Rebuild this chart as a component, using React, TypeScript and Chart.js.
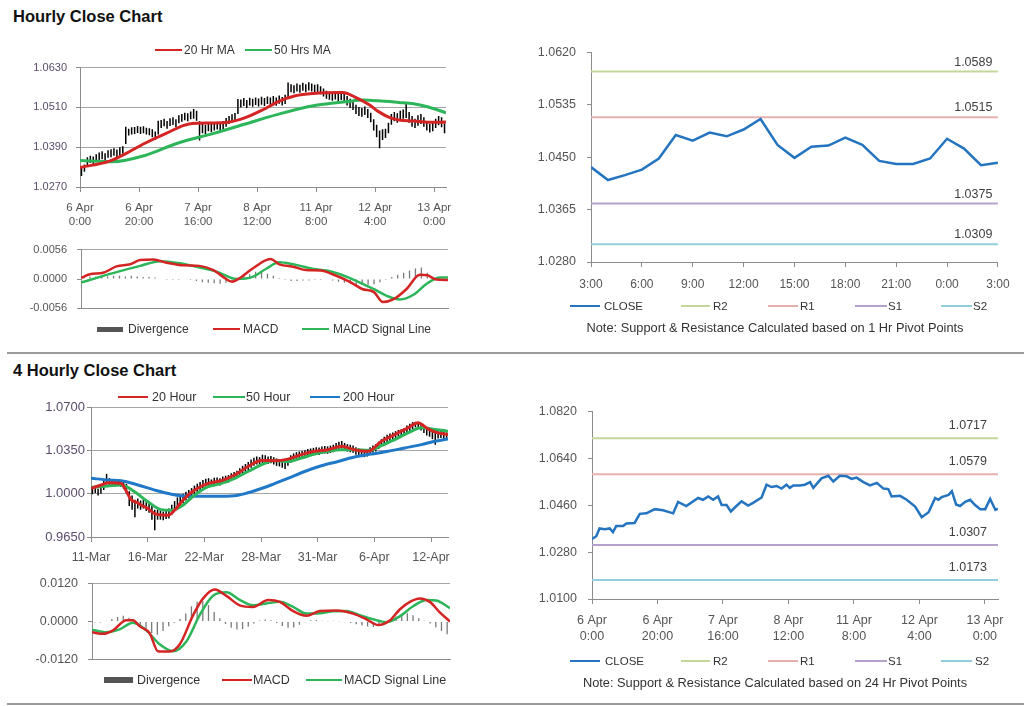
import React, { useEffect, useRef } from 'react';
import { Chart, registerables } from 'chart.js';
Chart.register(...registerables);

const FONT = '"Liberation Sans", Arial, sans-serif';
const AXIS = '#8c8c8c';
const GRID = '#a6a6a6';
const RED = '#d42424';
const GREEN = '#2db55a';
const BLUE = '#1f78c8';
const CLOSE_BLUE = '#2474c0';
const SR_COLORS = ['#c4d79b', '#e6b0ae', '#b4a2cc', '#92cddc'];

// ---------- Hourly close chart (top left) ----------
const H_TICK_POS = [0, 20, 40, 60, 80, 100, 120];
const H_TICK_LABELS = [['6 Apr', '0:00'], ['6 Apr', '20:00'], ['7 Apr', '16:00'], ['8 Apr', '12:00'], ['11 Apr', '8:00'], ['12 Apr', '4:00'], ['13 Apr', '0:00']];
const H_PRICE_TICKS = [1.027, 1.039, 1.051, 1.063];
const H_LOW = [
  1.0303, 1.0316, 1.0330, 1.0342, 1.0338, 1.0346, 1.0350, 1.0354, 1.0349, 1.0358,
  1.0360, 1.0364, 1.0360, 1.0366, 1.0370, 1.0400, 1.0425, 1.0428, 1.0430, 1.0433,
  1.0430, 1.0432, 1.0428, 1.0426, 1.0420, 1.0412, 1.0428, 1.0448, 1.0453, 1.0446,
  1.0454, 1.0457, 1.0451, 1.0462, 1.0467, 1.0471, 1.0468, 1.0474, 1.0476, 1.0470,
  1.0410, 1.0432, 1.0430, 1.0438, 1.0435, 1.0440, 1.0443, 1.0438, 1.0445, 1.0452,
  1.0460, 1.0464, 1.0467, 1.0490, 1.0510, 1.0514, 1.0508, 1.0516, 1.0512, 1.0517,
  1.0513, 1.0518, 1.0514, 1.0520, 1.0516, 1.0520, 1.0515, 1.0521, 1.0516, 1.0520,
  1.0540, 1.0556, 1.0553, 1.0558, 1.0554, 1.0560, 1.0556, 1.0561, 1.0558, 1.0554,
  1.0556, 1.0550, 1.0543, 1.0536, 1.0533, 1.0530, 1.0534, 1.0528, 1.0532, 1.0524,
  1.0516, 1.0508, 1.0502, 1.0490, 1.0484, 1.0482, 1.0487, 1.0478, 1.0465, 1.0440,
  1.0420, 1.0387, 1.0412, 1.0418, 1.0432, 1.0458, 1.0468, 1.0464, 1.0472, 1.0476,
  1.0478, 1.0464, 1.0452, 1.0448, 1.0455, 1.0460, 1.0452, 1.0440, 1.0434, 1.0438,
  1.0448, 1.0456, 1.0450, 1.0432,
];
const H_HIGH = [
  1.0328, 1.0338, 1.0360, 1.0364, 1.0362, 1.0369, 1.0374, 1.0378, 1.0372, 1.0381,
  1.0384, 1.0387, 1.0383, 1.0390, 1.0393, 1.0452, 1.0446, 1.0450, 1.0451, 1.0454,
  1.0452, 1.0453, 1.0449, 1.0447, 1.0444, 1.0437, 1.0470, 1.0472, 1.0476, 1.0469,
  1.0477, 1.0480, 1.0474, 1.0486, 1.0490, 1.0494, 1.0492, 1.0498, 1.0505, 1.0500,
  1.0468, 1.0462, 1.0458, 1.0462, 1.0460, 1.0464, 1.0467, 1.0462, 1.0469, 1.0478,
  1.0484, 1.0489, 1.0493, 1.0535, 1.0534, 1.0538, 1.0532, 1.0539, 1.0536, 1.0540,
  1.0537, 1.0542, 1.0538, 1.0543, 1.0540, 1.0544, 1.0540, 1.0546, 1.0541, 1.0548,
  1.0585, 1.0580, 1.0577, 1.0582, 1.0578, 1.0584, 1.0580, 1.0586, 1.0582, 1.0578,
  1.0580, 1.0574, 1.0567, 1.0560, 1.0557, 1.0554, 1.0558, 1.0552, 1.0556, 1.0552,
  1.0544, 1.0536, 1.0530, 1.0518, 1.0511, 1.0508, 1.0513, 1.0505, 1.0494, 1.0474,
  1.0458, 1.0440, 1.0444, 1.0446, 1.0464, 1.0490, 1.0496, 1.0492, 1.0500, 1.0504,
  1.0522, 1.0496, 1.0484, 1.0476, 1.0486, 1.0490, 1.0480, 1.0466, 1.0460, 1.0463,
  1.0476, 1.0484, 1.0480, 1.0462,
];
const H_MA20_X = [0, 10, 16, 22, 29, 37, 45, 50, 56, 62, 67, 73, 79, 89, 93, 98, 101, 105, 108, 113, 118, 124];
const H_MA20 = [1.0329, 1.0348, 1.0373, 1.0402, 1.0431, 1.0460, 1.0463, 1.0465, 1.0479, 1.0503, 1.0527, 1.0545, 1.0552, 1.0555, 1.0542, 1.0518, 1.0498, 1.0479, 1.0472, 1.0469, 1.0465, 1.0466];
const H_MA50_X = [0, 11, 22, 33, 45, 56, 67, 79, 86, 90, 96, 101, 108, 113, 118, 124];
const H_MA50 = [1.0350, 1.0346, 1.0365, 1.0402, 1.0431, 1.0460, 1.0489, 1.0515, 1.0523, 1.0527, 1.0532, 1.0530, 1.0525, 1.0521, 1.0511, 1.0494];

// Hourly MACD
const H_MACD_TICKS = [-0.0056, 0, 0.0056];
const H_MACD_X = [0, 3, 7.5, 12, 16.6, 20, 24.4, 29, 34.6, 40, 44.7, 48, 51, 53.7, 58, 64, 67, 72, 76, 81, 85, 91, 95, 99, 102, 105.5, 110, 114.5, 117, 120, 124];
const H_MACD = [0.0002, 0.0009, 0.0012, 0.0024, 0.0028, 0.0036, 0.0037, 0.0031, 0.0026, 0.0025, 0.0017, 0.0004, -0.0005, 0.0002, 0.0020, 0.0038, 0.0028, 0.0023, 0.0017, 0.0016, 0.0009, -0.0006, -0.0019, -0.0025, -0.0044, -0.0039, -0.0019, 0.0008, 0.0007, -0.0001, -0.0002];
const H_SIG_X = [0, 6.4, 13.2, 20, 26.7, 33.4, 40, 45.8, 52.6, 58, 62.7, 67, 71.7, 78.5, 83, 87.5, 92, 98.8, 103.3, 107.8, 112.3, 116.8, 121.3, 124];
const H_SIG = [-0.0007, 0.0004, 0.0015, 0.0025, 0.0034, 0.0030, 0.0022, 0.0014, 0.0000, 0.0004, 0.0020, 0.0032, 0.0028, 0.0019, 0.0016, 0.0009, -0.0001, -0.0019, -0.0032, -0.0039, -0.0030, -0.0009, 0.0003, 0.0003];
const H_DIV = [
  0.0004, 0.0005, 0.0005, 0.0006, 0.0005, 0.0006, 0.0006, 0.0005, 0.0006, 0.0005, 0.0004, 0.0004, 0.0003,
  -0.0001, -0.0002, -0.0002, -0.0002, -0.0001, -0.0002,
  -0.0004, -0.0006, -0.0007, -0.0008, -0.0009, -0.0007,
  -0.0004, 0.0002,
  0.0006, 0.0009, 0.0014, 0.0012, 0.0010, 0.0006,
  0.0002, -0.0002,
  -0.0004, -0.0004, -0.0003, -0.0003, -0.0002, -0.0002,
  -0.0001, -0.0003,
  -0.0005, -0.0007, -0.0009, -0.0010, -0.0011, -0.0011, -0.0010,
  -0.0006, -0.0002,
  0.0004, 0.0008, 0.0012, 0.0016, 0.0020, 0.0022,
  0.0012, 0.0004, 0.0001, -0.0002,
];

// Hourly close with 1 Hr pivots (top right)
const C1_TICK_POS = [0, 3, 6, 9, 12, 15, 18, 21, 24];
const C1_TICK_LABELS = ['3:00', '6:00', '9:00', '12:00', '15:00', '18:00', '21:00', '0:00', '3:00'];
const C1_Y_TICKS = [1.028, 1.0365, 1.045, 1.0535, 1.062];
const C1_CLOSE = [1.0434, 1.0413, 1.0421, 1.0430, 1.0448, 1.0486, 1.0477, 1.0490, 1.0484, 1.0495, 1.0512, 1.0470, 1.0449, 1.0467, 1.0469, 1.0482, 1.0470, 1.0444, 1.0439, 1.0439, 1.0448, 1.0480, 1.0464, 1.0437, 1.0441];
const C1_LEVELS = [1.0589, 1.0515, 1.0375, 1.0309]; // R2, R1, S1, S2

// ---------- 4 Hourly close chart (bottom left) ----------
const F_TICK_POS = [0, 20, 40, 60, 80, 100, 120];
const F_TICK_LABELS = ['11-Mar', '16-Mar', '22-Mar', '28-Mar', '31-Mar', '6-Apr', '12-Apr'];
const F_PRICE_TICKS = [0.965, 1.0, 1.035, 1.07];
const F_LOW = [
  0.9995, 1.0005, 0.9985, 1.0000, 1.0030, 1.0075, 1.0070, 1.0065, 1.0060, 1.0068,
  1.0055, 1.0040, 1.0000, 0.9900, 0.9870, 0.9810, 0.9880, 0.9870, 0.9880, 0.9860,
  0.9845, 0.9790, 0.9705, 0.9790, 0.9790, 0.9785, 0.9795, 0.9800, 0.9830, 0.9860,
  0.9895, 0.9915, 0.9925, 0.9945, 0.9960, 0.9975, 0.9995, 1.0010, 1.0025, 1.0045,
  1.0060, 1.0065, 1.0055, 1.0068, 1.0070, 1.0065, 1.0078, 1.0085, 1.0090, 1.0105,
  1.0115, 1.0125, 1.0140, 1.0160, 1.0175, 1.0190, 1.0210, 1.0225, 1.0235, 1.0230,
  1.0245, 1.0250, 1.0240, 1.0245, 1.0235, 1.0225, 1.0220, 1.0210, 1.0200, 1.0225,
  1.0250, 1.0265, 1.0275, 1.0280, 1.0285, 1.0290, 1.0300, 1.0305, 1.0310, 1.0315,
  1.0312, 1.0320, 1.0325, 1.0322, 1.0328, 1.0335, 1.0350, 1.0360, 1.0365, 1.0350,
  1.0340, 1.0335, 1.0330, 1.0315, 1.0305, 1.0300, 1.0295, 1.0300, 1.0315, 1.0330,
  1.0340, 1.0360, 1.0380, 1.0400, 1.0415, 1.0425, 1.0435, 1.0445, 1.0455, 1.0460,
  1.0470, 1.0490, 1.0505, 1.0520, 1.0535, 1.0530, 1.0510, 1.0490, 1.0470, 1.0460,
  1.0440, 1.0396, 1.0445, 1.0450, 1.0440, 1.0435,
];
const F_HIGH = [
  1.0045, 1.0050, 1.0040, 1.0050, 1.0120, 1.0160, 1.0125, 1.0115, 1.0110, 1.0118,
  1.0105, 1.0095, 1.0080, 1.0020, 0.9985, 0.9950, 0.9960, 0.9945, 0.9950, 0.9930,
  0.9920, 0.9900, 0.9870, 0.9870, 0.9860, 0.9855, 0.9865, 0.9880, 0.9910, 0.9940,
  0.9970, 0.9990, 1.0000, 1.0015, 1.0030, 1.0045, 1.0065, 1.0080, 1.0095, 1.0110,
  1.0120, 1.0125, 1.0115, 1.0128, 1.0130, 1.0125, 1.0138, 1.0145, 1.0150, 1.0165,
  1.0175, 1.0185, 1.0205, 1.0225, 1.0240, 1.0255, 1.0275, 1.0290, 1.0300, 1.0295,
  1.0315, 1.0310, 1.0300, 1.0305, 1.0295, 1.0285, 1.0280, 1.0275, 1.0270, 1.0285,
  1.0310, 1.0325, 1.0335, 1.0340, 1.0345, 1.0350, 1.0360, 1.0365, 1.0370, 1.0375,
  1.0372, 1.0380, 1.0385, 1.0382, 1.0388, 1.0395, 1.0410, 1.0420, 1.0425, 1.0410,
  1.0400, 1.0395, 1.0390, 1.0375, 1.0365, 1.0360, 1.0355, 1.0360, 1.0375, 1.0390,
  1.0400, 1.0420, 1.0440, 1.0460, 1.0475, 1.0485, 1.0495, 1.0505, 1.0515, 1.0520,
  1.0530, 1.0550, 1.0565, 1.0578, 1.0580, 1.0578, 1.0565, 1.0550, 1.0530, 1.0520,
  1.0505, 1.0490, 1.0505, 1.0510, 1.0500, 1.0495,
];
const F_MA20_X = [0, 3.6, 6, 10.7, 12, 14.2, 16.6, 17.8, 20.1, 22.5, 25, 27.2, 29.5, 33, 36.6, 41.3, 46, 50.7, 55.4, 60.1, 64.8, 69.5, 74.2, 78.9, 83.6, 88.4, 93, 97.8, 102.5, 107.2, 111.9, 115.4, 118.9, 122.5, 126];
const F_MA20 = [1.0043, 1.0070, 1.0089, 1.0083, 1.0040, 0.9950, 0.9925, 0.9907, 0.9880, 0.9839, 0.9828, 0.9825, 0.9866, 0.9961, 1.0029, 1.0083, 1.0105, 1.0151, 1.0219, 1.0268, 1.0266, 1.0279, 1.0315, 1.0342, 1.0355, 1.0383, 1.0355, 1.0342, 1.0423, 1.0478, 1.0532, 1.0573, 1.0524, 1.0491, 1.0478];
const F_MA50_X = [0, 6, 10.7, 15.4, 20.1, 24.8, 28.4, 31.9, 36.6, 41.3, 46, 50.7, 55.4, 60.1, 64.8, 69.5, 74.2, 78.9, 83.6, 88.4, 93, 97.8, 102.5, 107.2, 111.9, 116.6, 121.3, 126];
const F_MA50 = [1.0051, 1.0062, 1.0070, 1.0015, 0.9934, 0.9871, 0.9866, 0.9898, 0.9988, 1.0056, 1.0083, 1.0124, 1.0179, 1.0233, 1.0268, 1.0260, 1.0287, 1.0320, 1.0342, 1.0355, 1.0355, 1.0350, 1.0388, 1.0437, 1.0491, 1.0532, 1.0519, 1.0505];
const F_MA200_X = [0, 6, 10.7, 16.6, 22.5, 28.4, 34.2, 40.1, 46, 51.9, 57.8, 63.6, 69.5, 75.4, 81.3, 87.2, 93, 98.9, 104.8, 110.7, 116.6, 121.3, 126];
const F_MA200 = [1.0124, 1.0111, 1.0105, 1.0070, 1.0029, 0.9996, 0.9980, 0.9980, 0.9980, 0.9988, 1.0024, 1.0070, 1.0124, 1.0179, 1.0225, 1.0260, 1.0296, 1.0320, 1.0342, 1.0369, 1.0396, 1.0423, 1.0442];

// 4 Hourly MACD
const F_MACD_TICKS = [-0.012, 0, 0.012];
const F_MACD_X = [0, 3.9, 7.4, 12.1, 14.4, 16.8, 20.3, 23.2, 27.3, 30.9, 35.6, 39.1, 43.2, 47.3, 52, 56.7, 62, 66.1, 70.8, 75.5, 80.2, 86, 91.9, 96.6, 100.7, 104.8, 108.3, 111.9, 115.4, 118.9, 122.4, 126];
const F_MACD = [-0.0034, -0.0039, -0.0028, 0.0004, 0.0004, -0.0015, -0.0037, -0.0094, -0.0095, -0.0072, 0.0020, 0.0073, 0.0101, 0.0081, 0.0051, 0.0046, 0.0068, 0.0062, 0.0033, 0.0018, 0.0033, 0.0035, 0.0025, 0.0007, -0.0011, 0.0003, 0.0038, 0.0062, 0.0073, 0.0062, 0.0029, 0.0000];
const F_SIG_X = [0, 5, 9.7, 14.4, 19.1, 23.8, 28.5, 33.2, 37.9, 42.6, 47.3, 52, 56.7, 61.4, 66.1, 70.8, 75.5, 80.2, 84.9, 89.6, 94.2, 98.9, 103.6, 108.3, 113, 117.7, 121.2, 126];
const F_SIG = [-0.0026, -0.0034, -0.0025, -0.0004, -0.0028, -0.0072, -0.0094, -0.0063, 0.0020, 0.0081, 0.0092, 0.0068, 0.0051, 0.0057, 0.0062, 0.0046, 0.0025, 0.0026, 0.0032, 0.0033, 0.0020, 0.0007, -0.0002, 0.0016, 0.0048, 0.0068, 0.0066, 0.0042];
const F_DIV = [
  -0.0003, -0.0003, 0.0002, 0.0008, 0.0014, 0.0018, 0.0012, -0.0002, -0.0015, -0.0028,
  -0.0036, -0.0042, -0.0030, -0.0015, -0.0004, 0.0008, 0.0025, 0.0048, 0.0062, 0.0064,
  0.0052, 0.0030, 0.0010, -0.0008, -0.0020, -0.0025, -0.0024, -0.0016, -0.0006, 0.0003,
  0.0006, 0.0004, -0.0005, -0.0014, -0.0020, -0.0019, -0.0010, -0.0002, 0.0004, 0.0005,
  0.0002, 0.0001, 0.0002, 0.0001, -0.0002, -0.0005, -0.0009, -0.0013, -0.0016, -0.0017,
  -0.0012, -0.0004, 0.0006, 0.0016, 0.0024, 0.0026, 0.0020, 0.0010, 0.0002, -0.0006,
  -0.0018, -0.0030, -0.0040,
];

// Hourly close with 24 Hr pivots (bottom right)
const C24_Y_TICKS = [1.01, 1.028, 1.046, 1.064, 1.082];
const C24_X = [
  0, 1.3, 2.3, 3.9, 5.4, 6.4, 7.4, 9.5, 10.5, 13,
  14.6, 16.6, 19.2, 21.7, 24.8, 26.3, 28.8, 32.4, 33.9, 35.5,
  37, 38.5, 39.6, 41.1, 42.4, 44.1, 45.7, 47.7, 49.2, 51.8,
  53.3, 54.8, 56.4, 57.9, 59.4, 60.4, 61.5, 63.5, 65, 66.6,
  67.6, 69.1, 70.1, 72.2, 73.7, 75.7, 77.8, 79.3, 80.8, 82.9,
  84.9, 87, 89, 90.5, 91.5, 94.1, 96.1, 98.7, 100.7, 102.8,
  104.8, 105.8, 106.8, 108.9, 109.9, 111.2, 112.4, 114, 115.5, 117,
  118.6, 120.1, 121.6, 123.2, 124,
];
const C24_CLOSE = [
  1.0331, 1.0341, 1.0371, 1.0368, 1.0371, 1.0357, 1.0380, 1.0380, 1.0390, 1.0392,
  1.0427, 1.0429, 1.0445, 1.0441, 1.0429, 1.0473, 1.0457, 1.0488, 1.0481, 1.0494,
  1.0481, 1.0494, 1.0461, 1.0461, 1.0436, 1.0457, 1.0475, 1.0459, 1.0469, 1.0490,
  1.0539, 1.0530, 1.0534, 1.0524, 1.0539, 1.0527, 1.0536, 1.0536, 1.0539, 1.0549,
  1.0527, 1.0549, 1.0563, 1.0573, 1.0551, 1.0573, 1.0571, 1.0561, 1.0566, 1.0549,
  1.0536, 1.0546, 1.0524, 1.0522, 1.0494, 1.0496, 1.0481, 1.0455, 1.0414, 1.0433,
  1.0488, 1.0481, 1.0491, 1.0500, 1.0514, 1.0463, 1.0457, 1.0473, 1.0481, 1.0461,
  1.0445, 1.0445, 1.0484, 1.0442, 1.0447,
];
const C24_LEVELS = [1.0717, 1.0579, 1.0307, 1.0173];

// ---------- helpers ----------
const pts = (xs: number[], ys: number[]) => xs.map((x, i) => ({ x, y: ys[i] }));

const lineDs = (xs: number[], ys: number[], color: string, width: number, order: number, smooth = true): any => ({
  type: 'line', data: pts(xs, ys), borderColor: color, backgroundColor: color, borderWidth: width,
  pointRadius: 0, fill: false, order, cubicInterpolationMode: smooth ? 'monotone' : 'default', tension: 0,
});

const candleDs = (low: number[], high: number[]): any => ({
  type: 'bar', data: low.map((lo, i) => ({ x: i + 0.5, y: [lo, high[i]] })),
  backgroundColor: '#000', borderWidth: 0, barThickness: 1.5, inflateAmount: 0, order: 5,
});

const histDs = (vals: number[]): any => ({
  type: 'bar', data: vals.map((v, i) => ({ x: 2 * i + 1, y: [0, v] })),
  backgroundColor: '#7a7a7a', borderWidth: 0, barThickness: 1.3, inflateAmount: 0, order: 5,
});

const levelDs = (v: number, x0: number, x1: number, color: string): any => ({
  type: 'line', data: [{ x: x0, y: v }, { x: x1, y: v }], borderColor: color, borderWidth: 2,
  pointRadius: 0, fill: false, order: 3,
});

function scaleX(o: any) {
  return {
    type: 'linear', min: o.min, max: o.max, offset: false,
    afterBuildTicks: (s: any) => { s.ticks = o.ticks.map((v: number) => ({ value: v })); },
    ticks: {
      display: !!o.labels, autoSkip: false, maxRotation: 0, minRotation: 0,
      padding: o.pad ?? 8, color: o.color ?? '#555',
      font: { family: FONT, size: o.size ?? 11, lineHeight: o.lh ?? 1.2 },
      callback: (_v: any, i: number) => (o.labels ? o.labels[i] : ''),
    },
    grid: { display: true, drawOnChartArea: false, drawTicks: !!o.tickLen, tickLength: o.tickLen || 0, color: AXIS, offset: false },
    border: { display: true, color: AXIS, width: 1 },
  };
}

function scaleY(o: any) {
  return {
    type: 'linear', position: 'left', min: o.min, max: o.max,
    afterBuildTicks: (s: any) => { s.ticks = o.ticks.map((v: number) => ({ value: v })); },
    ticks: {
      padding: o.pad, color: o.color ?? '#555', font: { family: FONT, size: o.size ?? 11 },
      callback: (v: any) => Number(v).toFixed(4),
    },
    grid: {
      display: true, drawOnChartArea: !!o.grid, drawTicks: true, tickLength: 4, tickColor: AXIS,
      color: (ctx: any) => (o.skipZero && ctx.tick && Math.abs(ctx.tick.value) < 1e-9 ? 'rgba(0,0,0,0)' : GRID),
    },
    border: { display: true, color: AXIS, width: 1 },
  };
}

const levelLabels = (levels: number[], dx: number, dy: number, size: number) => ({
  id: 'levelLabels',
  afterDatasetsDraw(chart: any) {
    const { ctx, chartArea, scales } = chart;
    ctx.save();
    ctx.font = `${size}px ${FONT}`;
    ctx.fillStyle = '#404040';
    ctx.textAlign = 'right';
    ctx.textBaseline = 'middle';
    levels.forEach((v) => ctx.fillText(v.toFixed(4), chartArea.right - dx, scales.y.getPixelForValue(v) - dy));
    ctx.restore();
  },
});

type Rect = { L: number; T: number; R: number; B: number };
const YW = 70;
const PT = 10;
const PR = 22;

function ChartCanvas({ rect, xh, build }: { rect: Rect; xh: number; build: () => any }) {
  const ref = useRef<HTMLCanvasElement>(null);
  const w = YW + (rect.R - rect.L) + PR;
  const h = PT + (rect.B - rect.T) + xh;
  useEffect(() => {
    const cfg = build();
    cfg.options.layout = { padding: { left: 0, top: PT, right: PR, bottom: 0 } };
    cfg.options.scales.x.afterFit = (s: any) => { s.height = xh; };
    cfg.options.scales.y.afterFit = (s: any) => { s.width = YW; };
    const chart = new Chart(ref.current as HTMLCanvasElement, cfg);
    return () => chart.destroy();
  }, []);
  return (
    <canvas ref={ref} width={w} height={h}
      style={{ position: 'absolute', left: rect.L - YW, top: rect.T - PT, width: w, height: h }} />
  );
}

const baseOpts = (scales: any) => ({
  responsive: false, animation: false, devicePixelRatio: 1, events: [],
  plugins: { legend: { display: false }, tooltip: { enabled: false } },
  scales,
});

// ---------- chart builders ----------
const buildP1 = () => ({
  type: 'bar',
  data: { datasets: [
    lineDs(H_MA20_X, H_MA20, RED, 3, 1),
    lineDs(H_MA50_X, H_MA50, GREEN, 3, 2),
    candleDs(H_LOW, H_HIGH),
  ] },
  options: baseOpts({
    x: scaleX({ min: 0, max: 124, ticks: H_TICK_POS, labels: H_TICK_LABELS, pad: 9.4, size: 11.5, tickLen: 5 }),
    y: scaleY({ min: 1.027, max: 1.063, ticks: H_PRICE_TICKS, pad: 9, grid: true, color: '#5b4d6b', size: 11 }),
  }),
});

const buildP1M = () => ({
  type: 'bar',
  data: { datasets: [
    lineDs(H_MACD_X, H_MACD, RED, 2.5, 1),
    lineDs(H_SIG_X, H_SIG, GREEN, 2.5, 2),
    histDs(H_DIV),
  ] },
  options: baseOpts({
    x: scaleX({ min: 0, max: 124, ticks: H_TICK_POS }),
    y: scaleY({ min: -0.0056, max: 0.0056, ticks: H_MACD_TICKS, pad: 10, grid: true, skipZero: true, size: 11 }),
  }),
});

const buildP2 = () => ({
  type: 'line',
  data: { datasets: [
    ...C1_LEVELS.map((v, i) => levelDs(v, 0, 24, SR_COLORS[i])),
    lineDs(C1_CLOSE.map((_, i) => i), C1_CLOSE, CLOSE_BLUE, 2.5, 1, false),
  ] },
  options: baseOpts({
    x: scaleX({ min: 0, max: 24, ticks: C1_TICK_POS, labels: C1_TICK_LABELS, pad: 10.4, size: 12, tickLen: 5 }),
    y: scaleY({ min: 1.028, max: 1.062, ticks: C1_Y_TICKS, pad: 11, size: 12.5 }),
  }),
  plugins: [levelLabels(C1_LEVELS, 5.5, 9.3, 12.5)],
});

const buildP3 = () => ({
  type: 'bar',
  data: { datasets: [
    lineDs(F_MA20_X, F_MA20, RED, 3, 1),
    lineDs(F_MA50_X, F_MA50, GREEN, 3, 2),
    lineDs(F_MA200_X, F_MA200, BLUE, 3, 3),
    candleDs(F_LOW, F_HIGH),
  ] },
  options: baseOpts({
    x: scaleX({ min: 0, max: 126, ticks: F_TICK_POS, labels: F_TICK_LABELS, pad: 8, size: 12.5, tickLen: 5 }),
    y: scaleY({ min: 0.965, max: 1.07, ticks: F_PRICE_TICKS, pad: 2, grid: true, color: '#5b4d6b', size: 13 }),
  }),
});

const buildP3M = () => ({
  type: 'bar',
  data: { datasets: [
    lineDs(F_MACD_X, F_MACD, RED, 2.5, 1),
    lineDs(F_SIG_X, F_SIG, GREEN, 2.5, 2),
    histDs(F_DIV),
  ] },
  options: baseOpts({
    x: scaleX({ min: 0, max: 126, ticks: F_TICK_POS }),
    y: scaleY({ min: -0.012, max: 0.012, ticks: F_MACD_TICKS, pad: 10, grid: true, skipZero: true, size: 12.5 }),
  }),
});

const buildP4 = () => ({
  type: 'line',
  data: { datasets: [
    ...C24_LEVELS.map((v, i) => levelDs(v, 0, 124, SR_COLORS[i])),
    lineDs(C24_X, C24_CLOSE, CLOSE_BLUE, 2.5, 1, false),
  ] },
  options: baseOpts({
    x: scaleX({ min: 0, max: 124, ticks: H_TICK_POS, labels: H_TICK_LABELS, pad: 8.7, size: 12.5, lh: 1.28, tickLen: 5 }),
    y: scaleY({ min: 1.01, max: 1.082, ticks: C24_Y_TICKS, pad: 11, size: 12.5 }),
  }),
  plugins: [levelLabels(C24_LEVELS, 11, 12.5, 12.5)],
});

// ---------- HTML pieces ----------
function Txt({ x, y, text, size = 12, color = '#333', center = false, bold = false }: any) {
  return (
    <div style={{
      position: 'absolute', left: center ? x - 300 : x, top: y - 8, width: center ? 600 : undefined,
      textAlign: center ? 'center' : 'left', lineHeight: '16px', fontSize: size, color,
      fontWeight: bold ? 'bold' : 'normal', whiteSpace: 'nowrap', fontFamily: FONT,
    }}>{text}</div>
  );
}

function Swatch({ x1, x2, y, color, w }: any) {
  return <div style={{ position: 'absolute', left: x1, top: y - w / 2, width: x2 - x1, height: w, background: color }} />;
}

const P1: Rect = { L: 80, T: 62, R: 446, B: 187 };
const P1M: Rect = { L: 81, T: 243, R: 448, B: 315 };
const P2: Rect = { L: 591, T: 44, R: 998, B: 262 };
const P3: Rect = { L: 91, T: 407, R: 448, B: 537 };
const P3M: Rect = { L: 92, T: 576, R: 450, B: 667 };
const P4: Rect = { L: 592, T: 403, R: 998, B: 599 };

function SRLegend({ y, noteY, note, xs }: any) {
  return (
    <>
      <Swatch x1={570} x2={600} y={y} color={CLOSE_BLUE} w={2.5} />
      <Txt x={xs[0]} y={y} text="CLOSE" size={11.5} />
      <Swatch x1={681} x2={710} y={y} color={SR_COLORS[0]} w={1.5} />
      <Txt x={xs[1]} y={y} text="R2" size={11.5} />
      <Swatch x1={768} x2={798} y={y} color={SR_COLORS[1]} w={1.5} />
      <Txt x={xs[2]} y={y} text="R1" size={11.5} />
      <Swatch x1={855} x2={887} y={y} color={SR_COLORS[2]} w={1.5} />
      <Txt x={xs[3]} y={y} text="S1" size={11.5} />
      <Swatch x1={941} x2={972} y={y} color={SR_COLORS[3]} w={1.5} />
      <Txt x={xs[4]} y={y} text="S2" size={11.5} />
      <Txt x={775} y={noteY} text={note} size={12.8} center />
    </>
  );
}

export default function App() {
  return (
    <div style={{ position: 'fixed', left: 0, top: 0, width: 1024, height: 706, background: '#fff', overflow: 'hidden', fontFamily: FONT }}>
      <div style={{ position: 'absolute', left: 13, top: 6.8, fontSize: 16.5, fontWeight: 'bold', color: '#111', whiteSpace: 'nowrap' }}>Hourly Close Chart</div>
      <div style={{ position: 'absolute', left: 13, top: 360.8, fontSize: 16.5, fontWeight: 'bold', color: '#111', whiteSpace: 'nowrap' }}>4 Hourly Close Chart</div>

      <ChartCanvas rect={P1} xh={40} build={buildP1} />
      <ChartCanvas rect={P1M} xh={10} build={buildP1M} />
      <ChartCanvas rect={P2} xh={30} build={buildP2} />
      <ChartCanvas rect={P3} xh={30} build={buildP3} />
      <ChartCanvas rect={P3M} xh={10} build={buildP3M} />
      <ChartCanvas rect={P4} xh={45} build={buildP4} />

      {/* hourly price legend */}
      <Swatch x1={155} x2={182} y={50} color={RED} w={2.5} />
      <Txt x={184} y={50} text="20 Hr MA" />
      <Swatch x1={245} x2={272} y={50} color={GREEN} w={2.5} />
      <Txt x={274} y={50} text="50 Hrs MA" />

      {/* hourly MACD legend */}
      <Swatch x1={97} x2={123} y={329} color="#555" w={5} />
      <Txt x={128} y={329} text="Divergence" />
      <Swatch x1={213} x2={240} y={329} color={RED} w={2} />
      <Txt x={243} y={329} text="MACD" />
      <Swatch x1={302} x2={329} y={329} color={GREEN} w={2} />
      <Txt x={333} y={329} text="MACD Signal Line" />

      <SRLegend y={306} noteY={328} xs={[604, 713, 800, 888, 973]} note="Note: Support & Resistance Calculated based on 1 Hr Pivot Points" />

      <div style={{ position: 'absolute', left: 7, top: 351.5, width: 1017, height: 2, background: '#9a9a9a' }} />

      {/* 4 hourly price legend */}
      <Swatch x1={118} x2={148} y={397} color={RED} w={2.5} />
      <Txt x={152} y={397} text="20 Hour" size={12.5} />
      <Swatch x1={213} x2={245} y={397} color={GREEN} w={2.5} />
      <Txt x={246} y={397} text="50 Hour" size={12.5} />
      <Swatch x1={310} x2={340} y={397} color={BLUE} w={2.5} />
      <Txt x={343} y={397} text="200 Hour" size={12.5} />

      {/* 4 hourly MACD legend */}
      <Swatch x1={104} x2={133} y={680} color="#555" w={6} />
      <Txt x={137} y={680} text="Divergence" size={12.5} />
      <Swatch x1={222} x2={252} y={680} color={RED} w={2} />
      <Txt x={253} y={680} text="MACD" size={12.5} />
      <Swatch x1={306} x2={342} y={680} color={GREEN} w={2} />
      <Txt x={344} y={680} text="MACD Signal Line" size={12.5} />

      <SRLegend y={661} noteY={683} xs={[605, 713, 800, 888, 975]} note="Note: Support & Resistance Calculated based on 24 Hr Pivot Points" />

      <div style={{ position: 'absolute', left: 7, top: 703, width: 1017, height: 2, background: '#9a9a9a' }} />
    </div>
  );
}
